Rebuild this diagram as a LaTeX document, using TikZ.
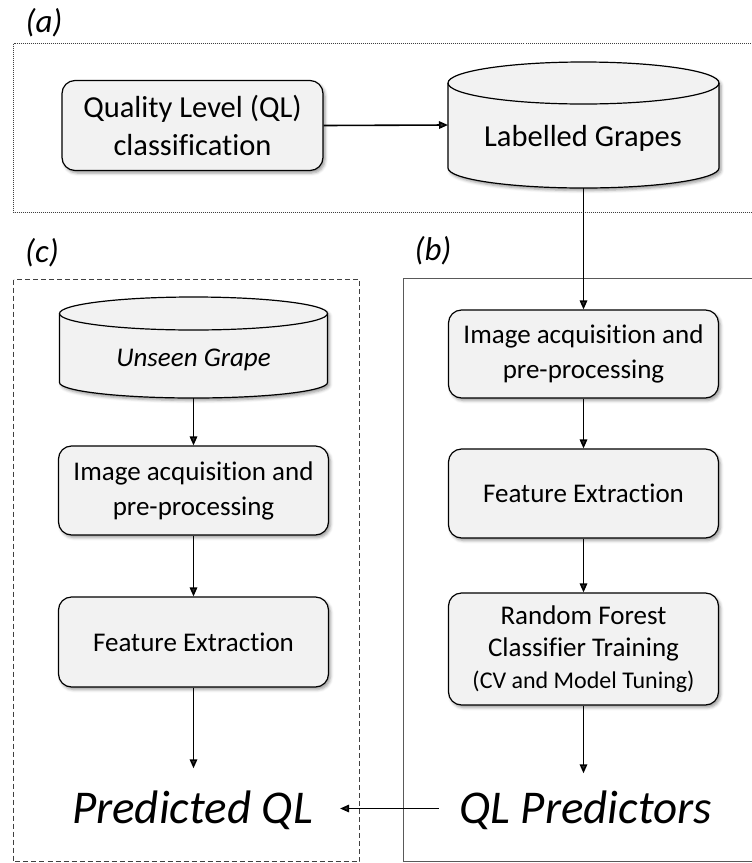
\documentclass[tikz,border=0pt]{standalone}
\usepackage{fontspec}
\setmainfont{Carlito}[Ligatures=NoCommon]
\usetikzlibrary{arrows.meta,shadows.blur}
\definecolor{boxfill}{HTML}{F2F2F2}
\definecolor{framegray}{HTML}{404040}
\newcommand\cylshape[4]{%
  \path[draw=black, line width=1.2pt, fill=boxfill,
        blur shadow={shadow xshift=2pt, shadow yshift=-2.5pt, shadow blur radius=3pt, shadow opacity=40}]
    ([yshift=-#3]#1.north west) -- ([yshift=#4]#1.south west)
    arc[start angle=180, end angle=360, x radius=#2, y radius=#4]
    -- ([yshift=-#3]#1.north east)
    arc[start angle=0, end angle=180, x radius=#2, y radius=#3] -- cycle;
  \draw[line width=1.2pt] ([yshift=-#3]#1.north west)
    arc[start angle=180, end angle=360, x radius=#2, y radius=#3];
}
\begin{document}
\begin{tikzpicture}[x=1pt,y=-1pt,
  procbox/.style={draw=black, line width=1.2pt, fill=boxfill, rounded corners=13pt,
    minimum width=270pt, inner sep=0pt, align=center,
    font=\fontsize{27}{35}\selectfont,
    blur shadow={shadow xshift=2pt, shadow yshift=-2.5pt, shadow blur radius=3pt, shadow opacity=40}},
  cylholder/.style={inner sep=0pt, outer sep=0pt},
  cyltext/.style={inner sep=0pt, align=center},
  conn/.style={line width=1.6pt, -{Triangle[length=9pt,width=7.5pt]}},
  panellabel/.style={font=\fontsize{33}{38}\selectfont\itshape, inner sep=0pt},
  bigtxt/.style={font=\fontsize{47}{52}\selectfont\itshape, inner sep=0pt, text height=30pt, text depth=0pt},
]
\clip (0,0) rectangle (752,863);

% panels
\draw[framegray, line width=1pt, dash pattern=on 1pt off 1pt] (13.5,43.5) rectangle (770,212.5);
\draw[black!65, line width=1pt] (403.5,278.5) rectangle (770,861.5);
\draw[black!75, line width=1pt, dash pattern=on 5pt off 3pt] (13.5,279.5) rectangle (359.5,861.5);

\node[panellabel] (la) at (44,23) {(a)};
\node[panellabel] (lb) at (433,251) {(b)};
\node[panellabel] (lc) at (42,253) {(c)};

% (a)
\node[procbox, minimum width=261pt, minimum height=90pt, font=\fontsize{30.5}{38}\selectfont] (ql) at (192.5,125.5) {Quality Level (QL)\\classification};
\node[cylholder, minimum width=271pt, minimum height=126pt] (lg) at (583.5,125) {};
\cylshape{lg}{135.5pt}{21pt}{20pt}
\node[cyltext, font=\fontsize{30.5}{38}\selectfont] (lgt) at (583,138) {Labelled Grapes};

% (b)
\node[procbox, minimum height=88pt] (b1) at (583.5,354) {Image acquisition and\\pre-processing};
\node[procbox, minimum height=89pt] (b2) at (583.5,493.5) {Feature Extraction};
\node[procbox, minimum height=112pt, font=\fontsize{27}{32}\selectfont] (b3) at (583.5,649) {Random Forest\\Classifier Training\\{\fontsize{24}{32}\selectfont (CV and Model Tuning)}};
\node[bigtxt] (qlp) at (585.5,808.5) {QL Predictors};

% (c)
\node[cylholder, minimum width=268pt, minimum height=101pt] (c0) at (193.5,347.5) {};
\cylshape{c0}{134pt}{16.5pt}{15.5pt}
\node[cyltext, font=\fontsize{27}{35}\selectfont\itshape] (c0t) at (193.5,360) {Unseen Grape};
\node[procbox, minimum height=89pt] (c1) at (193.5,490.5) {Image acquisition and\\pre-processing};
\node[procbox, minimum height=90pt] (c2) at (193.5,642) {Feature Extraction};
\node[bigtxt] (pql) at (192.5,808.5) {Predicted QL};

% connectors
\draw[conn] (ql.east) -- (lg.west);
\draw[conn] (b1.north |- lg.south) -- (b1.north);
\draw[conn] (b1.south) -- (b2.north);
\draw[conn] (b2.south) -- (b3.north);
\draw[conn, shorten >=20pt] (b3.south) -- (b3.south |- qlp.north);
\draw[conn] (c0.south) -- (c1.north);
\draw[conn] (c1.south) -- (c2.north);
\draw[conn, shorten >=25pt] (c2.south) -- (c2.south |- pql.north);
\draw[conn, shorten <=20pt, shorten >=27pt] (qlp.west) -- (pql.east);
\end{tikzpicture}
\end{document}
